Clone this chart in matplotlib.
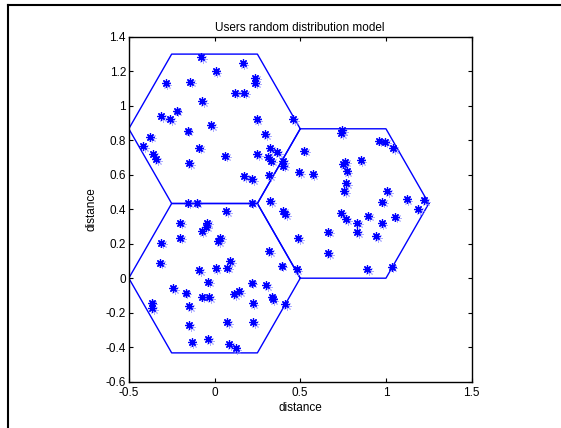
import numpy as np
import matplotlib.pyplot as plt
from matplotlib.lines import Line2D

plt.rcParams['font.family'] = ['Liberation Sans', 'DejaVu Sans']

# cell centres (hexagonal cells, radius 0.5)
hex_cx = [0.0, 0.0, 0.75]
hex_cy = [0.866, 0.0, 0.433]
hex_r = 0.5

# user positions
users_x = [
    -0.079, 0.007, 0.164, -0.285, -0.141, 0.236, 0.236, 0.121, 0.173, -0.071,
    -0.221, -0.312, -0.258, 0.246, 0.457, -0.019, -0.157, 0.294, -0.376, -0.415,
    -0.089, 0.323, 0.364, -0.357, -0.341, 0.061, 0.248, 0.312, -0.147, 0.329,
    0.399, 0.399, 0.173, 0.218, 0.317, 0.523, 0.494, 0.572,
    0.745, 0.737, 0.959, 0.994, 1.042, 0.761, 0.747, 0.852, 0.771, 0.766,
    0.757, 1.007, 0.978, 1.120, 1.223, 1.188, 0.401, 0.411, 0.737, 0.766,
    0.897, 1.052, 0.832, 0.975, 0.832, 0.941, 0.663, 0.488, 0.663, 0.392,
    0.479, 0.891, 1.033,
    -0.153, -0.104, 0.217, 0.323, 0.067, -0.200, -0.042, -0.050, -0.075, -0.201,
    0.032, 0.022, -0.310, 0.319, -0.318, 0.090, -0.089, 0.007, 0.074, -0.036,
    0.217, 0.300, -0.241, -0.168, 0.113, 0.144, -0.071, -0.031, 0.333, 0.339,
    -0.366, -0.363, -0.147, 0.222, 0.411, -0.147, 0.074, 0.226, -0.133, -0.036,
    0.086, 0.123,
]
users_y = [
    1.281, 1.201, 1.246, 1.130, 1.139, 1.162, 1.133, 1.075, 1.075, 1.027,
    0.971, 0.940, 0.923, 0.923, 0.923, 0.888, 0.855, 0.836, 0.820, 0.766,
    0.757, 0.755, 0.729, 0.720, 0.691, 0.710, 0.718, 0.704, 0.666, 0.681,
    0.679, 0.653, 0.590, 0.575, 0.598, 0.740, 0.616, 0.604,
    0.859, 0.840, 0.797, 0.791, 0.753, 0.675, 0.660, 0.685, 0.621, 0.550,
    0.506, 0.506, 0.443, 0.457, 0.453, 0.399, 0.391, 0.372, 0.376, 0.343,
    0.362, 0.357, 0.322, 0.318, 0.266, 0.245, 0.270, 0.231, 0.144, 0.072,
    0.052, 0.052, 0.067,
    0.438, 0.438, 0.438, 0.448, 0.390, 0.322, 0.322, 0.299, 0.274, 0.235,
    0.235, 0.216, 0.206, 0.158, 0.090, 0.100, 0.048, 0.057, 0.061, -0.020,
    -0.026, -0.039, -0.059, -0.084, -0.092, -0.074, -0.107, -0.111, -0.107, -0.121,
    -0.142, -0.174, -0.161, -0.146, -0.151, -0.271, -0.256, -0.256, -0.372, -0.352,
    -0.383, -0.406,
]

fig = plt.figure(figsize=(5.61, 4.28), dpi=100)
ax = fig.add_axes([0.2296, 0.1082, 0.6112, 0.8061])

# hexagon outlines
ang = np.deg2rad(np.arange(0, 361, 60))
for cx, cy in zip(hex_cx, hex_cy):
    ax.plot(cx + hex_r * np.cos(ang), cy + hex_r * np.sin(ang),
            color=(0, 0, 1), lw=1.0)

# users (asterisk markers, with faint ghost like the source image)
ax.plot(np.array(users_x) + 0.01, np.array(users_y) - 0.01, ls='none',
        marker=(8, 2, 0), ms=6, mew=0.7, color=(0.55, 0.55, 1.0), alpha=0.7)
ax.plot(users_x, users_y, ls='none', marker=(8, 2, 0), ms=6, mew=0.9,
        color=(0, 0, 1))

ax.set_xlim(-0.5, 1.5)
ax.set_ylim(-0.6, 1.4)
ax.set_xticks([-0.5, 0, 0.5, 1, 1.5])
ax.set_xticklabels(['-0.5', '0', '0.5', '1', '1.5'])
ax.set_yticks(np.round(np.arange(-0.6, 1.41, 0.2), 1))
ax.set_yticklabels(['-0.6', '-0.4', '-0.2', '0', '0.2', '0.4', '0.6',
                    '0.8', '1', '1.2', '1.4'])
ax.tick_params(direction='in', length=3, width=0.8, labelsize=8.5,
               top=True, right=True, pad=2)
ax.tick_params(axis='x', pad=4)
for s in ax.spines.values():
    s.set_linewidth(1.0)

ax.set_title('Users random distribution model', fontsize=8.5, pad=4)
ax.set_xlabel('distance', fontsize=8.5, labelpad=2)
ax.set_ylabel('distance', fontsize=8.5, labelpad=6)

# frame edges of the captured figure window
fig.add_artist(Line2D([8 / 561, 8 / 561], [0, 1 - 5 / 428],
                      transform=fig.transFigure, color='black', lw=1.5))
fig.add_artist(Line2D([8 / 561, 1], [1 - 5 / 428, 1 - 5 / 428],
                      transform=fig.transFigure, color='black', lw=1.5))

fig.savefig('out.png', dpi=100)
